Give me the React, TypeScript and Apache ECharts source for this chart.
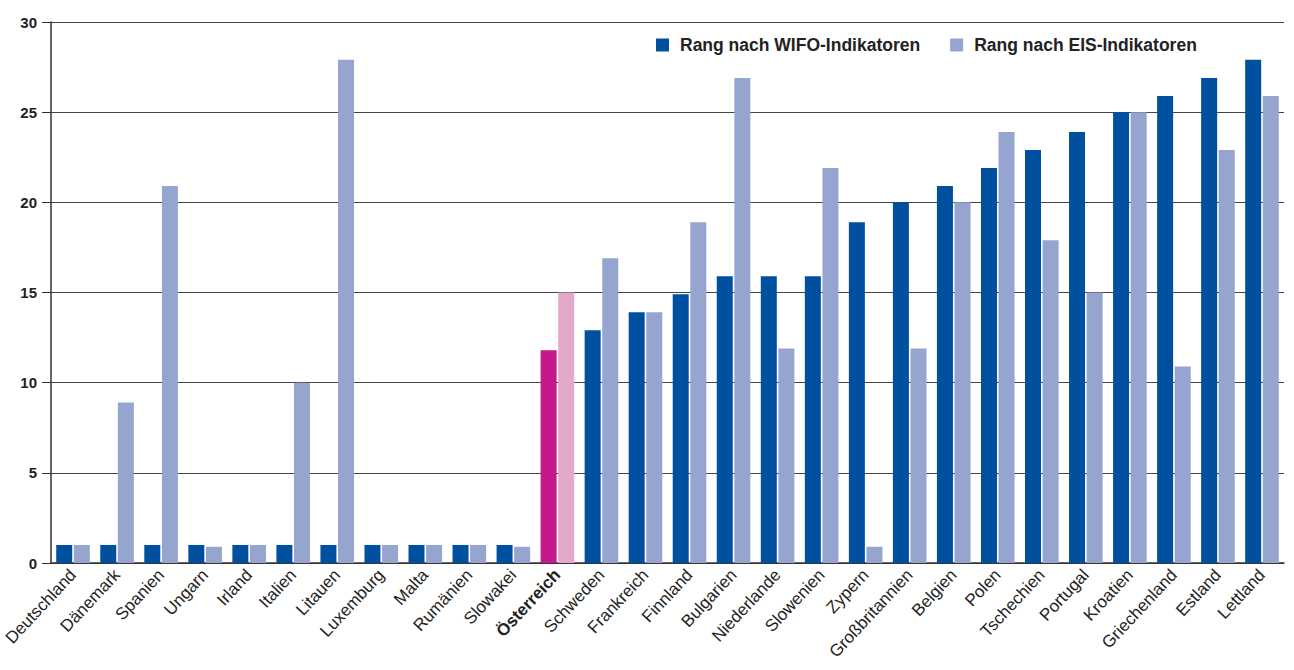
import React, { useEffect, useRef } from "react";
import * as echarts from "echarts";

const categories = [
  "Deutschland", "Dänemark", "Spanien", "Ungarn", "Irland", "Italien", "Litauen",
  "Luxemburg", "Malta", "Rumänien", "Slowakei", "Österreich", "Schweden", "Frankreich",
  "Finnland", "Bulgarien", "Niederlande", "Slowenien", "Zypern", "Großbritannien",
  "Belgien", "Polen", "Tschechien", "Portugal", "Kroatien", "Griechenland", "Estland", "Lettland",
];
const wifoValues = [
  1, 1, 1, 1, 1, 1, 1, 1, 1, 1, 1, 11.8, 12.9, 13.9,
  14.9, 15.9, 15.9, 15.9, 18.9, 20, 20.9, 21.9, 22.9, 23.9, 25, 25.9, 26.9, 27.9,
];
const eisValues = [
  1, 8.9, 20.9, 0.9, 1, 10, 27.9, 1, 1, 1, 0.9, 15, 16.9, 13.9,
  18.9, 26.9, 11.9, 21.9, 0.9, 11.9, 20, 23.9, 17.9, 15, 25, 10.9, 22.9, 25.9,
];
const yTicks = { min: 0, max: 30, interval: 5 };
const highlight = "Österreich";
const seriesNames = ["Rang nach WIFO-Indikatoren", "Rang nach EIS-Indikatoren"];

const C_WIFO = "#00509F";
const C_EIS = "#96A5CF";
const C_WIFO_HL = "#C5198B";
const C_EIS_HL = "#E3A8CA";
const FONT = "'Liberation Sans', Arial, sans-serif";

export default function App() {
  const ref = useRef<HTMLDivElement>(null);
  useEffect(() => {
    document.body.style.margin = "0";
    const chart = echarts.init(ref.current!, null, { renderer: "svg" });
    const mk = (vals: number[], hl: string) =>
      vals.map((v, i) =>
        categories[i] === highlight ? { value: v, itemStyle: { color: hl } } : v
      );
    chart.setOption({
      animation: false,
      backgroundColor: "#ffffff",
      textStyle: { fontFamily: FONT },
      legend: {
        left: 651,
        top: 31,
        icon: "rect",
        itemWidth: 13,
        itemHeight: 13,
        itemGap: 30,
        itemStyle: { borderWidth: 0 },
        textStyle: {
          fontSize: 17.5,
          fontWeight: "bold",
          color: "#222",
          fontFamily: FONT,
          padding: [0, 0, 0, 6],
        },
        data: seriesNames,
      },
      grid: { left: 51, right: 10, top: 22, bottom: 107 },
      xAxis: {
        type: "category",
        data: categories,
        axisLine: { show: true, lineStyle: { color: "#333", width: 1.5 } },
        axisTick: { show: false },
        axisLabel: {
          rotate: 47,
          interval: 0,
          margin: 9,
          fontSize: 17,
          color: "#222",
          fontFamily: FONT,
          formatter: (v: string) => (v === highlight ? "{b|" + v + "}" : v),
          rich: { b: { fontWeight: "bold", fontSize: 17, color: "#222", fontFamily: FONT } },
        },
      },
      yAxis: {
        type: "value",
        min: yTicks.min,
        max: yTicks.max,
        interval: yTicks.interval,
        axisLine: { show: true, lineStyle: { color: "#333", width: 1.5 } },
        axisTick: { show: true, length: 9, lineStyle: { color: "#333" } },
        axisLabel: { margin: 14, fontSize: 15, fontWeight: "bold", color: "#222", fontFamily: FONT },
        splitLine: { show: true, lineStyle: { color: "#444", width: 1 } },
      },
      series: [
        {
          name: seriesNames[0],
          type: "bar",
          data: mk(wifoValues, C_WIFO_HL),
          itemStyle: { color: C_WIFO },
          barWidth: 16,
          barGap: "10%",
        },
        {
          name: seriesNames[1],
          type: "bar",
          data: mk(eisValues, C_EIS_HL),
          itemStyle: { color: C_EIS },
          barWidth: 16,
          barGap: "10%",
        },
      ],
    });
    return () => chart.dispose();
  }, []);
  return <div ref={ref} style={{ width: 1294, height: 670 }} />;
}
